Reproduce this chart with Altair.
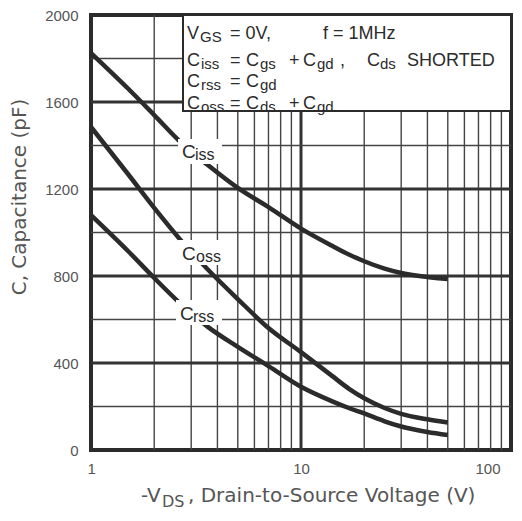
import altair as alt
import pandas as pd

# ---------------- data ----------------
vds = [1, 1.5, 2, 2.7, 3.6, 5, 7, 10, 14, 17, 20, 25, 30, 40, 50]
ciss = [1825, 1662, 1540, 1411, 1310, 1205, 1117, 1018, 940, 898, 868, 834, 814, 795, 786]
coss = [1485, 1269, 1113, 960, 830, 694, 561, 450, 342, 280, 238, 193, 166, 141, 126]
crss = [1080, 915, 791, 668, 566, 474, 386, 291, 225, 192, 168, 132, 108, 83, 69]

x_ticks = [1, 10, 100]
y_ticks = [0, 400, 800, 1200, 1600, 2000]
v_minor = [2, 3, 4, 5, 6, 7, 8, 9, 20, 30, 40, 50, 60, 70, 80, 90]
v_major = [10]
c_minor = [200, 600, 1000, 1400, 1800]
c_major = [400, 800, 1200, 1600]

# curve labels (page px): C x, C baseline, sub x, sub baseline, mask box
lab_main = ["C", "C", "C"]
lab_sub = ["iss", "oss", "rss"]
lab_cx = [182, 182, 180]
lab_cy = [158, 260, 320]
lab_sx = [195, 196, 193]
lab_sy = [160, 262, 322]
mask_x0 = [178, 178, 176]
mask_x1 = [222, 226, 222]
mask_y0 = [139, 240, 300]
mask_y1 = [164, 265, 325]

# condition box text fragments (text, page x, line, is_sub)
box_frag = [
    ("V", 187, 0, 0), ("GS", 200, 0, 1), ("= 0V,", 230, 0, 0), ("f = 1MHz", 323, 0, 0),
    ("C", 187, 1, 0), ("iss", 201, 1, 1), ("=", 230, 1, 0), ("C", 246, 1, 0), ("gs", 260, 1, 1),
    ("+", 289, 1, 0), ("C", 303, 1, 0), ("gd", 317, 1, 1), (",", 340, 1, 0),
    ("C", 367, 1, 0), ("ds", 380, 1, 1), ("SHORTED", 407, 1, 0),
    ("C", 187, 2, 0), ("rss", 201, 2, 1), ("=", 230, 2, 0), ("C", 246, 2, 0), ("gd", 260, 2, 1),
    ("C", 187, 3, 0), ("oss", 201, 3, 1), ("=", 230, 3, 0), ("C", 246, 3, 0), ("ds", 260, 3, 1),
    ("+", 289, 3, 0), ("C", 303, 3, 0), ("gd", 317, 3, 1),
]
box_baselines = [39, 66, 87, 109]
box_left, box_bottom = 183, 111

# ---------------- geometry helpers ----------------
W, H = 420, 435
OX, OY = 91, 15
XMIN, XMAX = 1, 100
YMIN, YMAX = 0, 2000
DEC = W / 2.0


def px2v(px):
    return 10 ** ((px - OX) / DEC)


def py2c(py):
    return YMAX * (1 - (py - OY) / H)


SANS = "Liberation Sans"
WIDE = "DejaVu Sans"
DARK = "#2b2b2b"
GRAY = "#555555"

xscale = alt.Scale(type="log", domain=[XMIN, XMAX], nice=False)
yscale = alt.Scale(domain=[YMIN, YMAX], nice=False)

xaxis = alt.Axis(
    values=x_ticks, format="d", grid=False, ticks=False, domain=False,
    labelFont=SANS, labelFontSize=15, labelColor=GRAY, labelPadding=11,
    labelOffset={"condition": [{"test": "datum.value == 1", "value": -4},
                               {"test": "datum.value == 100", "value": -11}], "value": 0},
    title=None,
)
yaxis = alt.Axis(
    values=y_ticks, format="d", grid=False, ticks=False, domain=False,
    labelFont=SANS, labelFontSize=15, labelColor=GRAY, labelPadding=13, title=None,
)


def X(f="v"):
    return alt.X(f"{f}:Q", scale=xscale, axis=xaxis, title=None)


def Y(f="c"):
    return alt.Y(f"{f}:Q", scale=yscale, axis=yaxis, title=None)


# ---------------- tables ----------------
curves = pd.concat([
    pd.DataFrame({"v": vds, "c": ciss, "s": "Ciss"}),
    pd.DataFrame({"v": vds, "c": coss, "s": "Coss"}),
    pd.DataFrame({"v": vds, "c": crss, "s": "Crss"}),
])

vmin_df = pd.DataFrame({"v": v_minor})
vmaj_df = pd.DataFrame({"v": v_major})
cmin_df = pd.DataFrame({"c": c_minor})
cmaj_df = pd.DataFrame({"c": c_major})

mask_df = pd.DataFrame({
    "v": [px2v(x) for x in mask_x0], "v2": [px2v(x) for x in mask_x1],
    "c": [py2c(y) for y in mask_y0], "c2": [py2c(y) for y in mask_y1],
})

lab_rows = []
for i in range(3):
    lab_rows.append({"v": px2v(lab_cx[i]), "c": py2c(lab_cy[i]), "t": lab_main[i], "fs": 19})
    lab_rows.append({"v": px2v(lab_sx[i]), "c": py2c(lab_sy[i]), "t": lab_sub[i], "fs": 16})
lab_df = pd.DataFrame(lab_rows)

box_df = pd.DataFrame({"v": [px2v(box_left)], "v2": [XMAX],
                       "c": [py2c(box_bottom)], "c2": [YMAX]})

frag_rows = []
for t, x, ln, sub in box_frag:
    frag_rows.append({"v": px2v(x), "c": py2c(box_baselines[ln] + (3 if sub else 0)),
                      "t": t, "fs": 15 if sub else 18})
frag_df = pd.DataFrame(frag_rows)

xtitle_df = pd.DataFrame([
    {"v": px2v(141), "c": py2c(502), "t": "-V", "fs": 20},
    {"v": px2v(162), "c": py2c(507), "t": "DS", "fs": 16},
    {"v": px2v(188), "c": py2c(502), "t": ", Drain-to-Source Voltage (V)", "fs": 20},
])
ytitle_df = pd.DataFrame([{"v": px2v(20), "c": py2c(197), "t": "C, Capacitance (pF)"}])

# ---------------- layers ----------------
g_vmin = alt.Chart(vmin_df).mark_rule(color="#444", strokeWidth=1.4).encode(x=X())
g_vmaj = alt.Chart(vmaj_df).mark_rule(color="#333", strokeWidth=3).encode(x=X())
g_cmin = alt.Chart(cmin_df).mark_rule(color="#444", strokeWidth=1.4).encode(y=Y())
g_cmaj = alt.Chart(cmaj_df).mark_rule(color="#333", strokeWidth=3).encode(y=Y())

lines = alt.Chart(curves).mark_line(
    color=DARK, strokeWidth=4.5, interpolate="monotone", strokeCap="butt"
).encode(x=X(), y=Y(), detail="s:N")

masks = alt.Chart(mask_df).mark_rect(fill="white", stroke=None).encode(
    x=X(), x2="v2:Q", y=Y(), y2="c2:Q")

labels = alt.Chart(lab_df).mark_text(
    align="left", baseline="alphabetic", font=SANS, color=DARK
).encode(x=X(), y=Y(), text="t:N", size=alt.Size("fs:Q", scale=None, legend=None))

box = alt.Chart(box_df).mark_rect(fill="white", stroke=DARK, strokeWidth=2).encode(
    x=X(), x2="v2:Q", y=Y(), y2="c2:Q")

box_text = alt.Chart(frag_df).mark_text(
    align="left", baseline="alphabetic", font=SANS, color=DARK
).encode(x=X(), y=Y(), text="t:N", size=alt.Size("fs:Q", scale=None, legend=None))

xtitle = alt.Chart(xtitle_df).mark_text(
    align="left", baseline="alphabetic", font=WIDE, color=GRAY
).encode(x=X(), y=Y(), text="t:N", size=alt.Size("fs:Q", scale=None, legend=None))

ytitle = alt.Chart(ytitle_df).mark_text(
    align="center", baseline="middle", font=WIDE, color=GRAY, fontSize=20, angle=270
).encode(x=X(), y=Y(), text="t:N")

chart = alt.layer(
    g_vmin, g_vmaj, g_cmin, g_cmaj, lines, masks, labels, box, box_text, xtitle, ytitle
).properties(
    width=W, height=H,
    autosize=alt.AutoSizeParams(type="none"),
    padding={"left": 83, "top": 7, "right": 3, "bottom": 60},
    background="white",
).configure_view(stroke=DARK, strokeWidth=4)

chart.save("out.html", embed_options={"renderer": "svg", "actions": False})
